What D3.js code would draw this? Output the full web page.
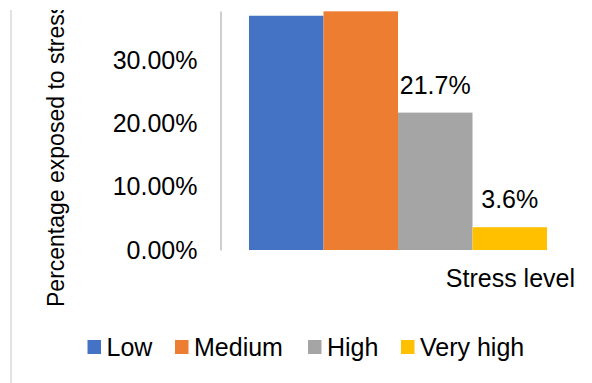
<!DOCTYPE html>
<html>
<head>
<meta charset="utf-8">
<script src="https://cdn.jsdelivr.net/npm/d3@7"></script>
<style>
  html, body { margin: 0; padding: 0; background: #fff; }
  svg { display: block; font-family: "Liberation Sans", Arial, sans-serif; }
</style>
</head>
<body>
<div id="chart"></div>
<script>
const categories = ["Low", "Medium", "High", "Very high"];
const values = [0.370, 0.377, 0.217, 0.036];
const labels = [null, null, "21.7%", "3.6%"];
const colors = ["#4472c4", "#ed7d31", "#a5a5a5", "#ffc000"];
const yTicks = [0, 0.1, 0.2, 0.3];

const width = 592, height = 383;
const plot = { left: 220.5, top: 11, bottom: 250, barLeft: 249, barRight: 547 };

const svg = d3.select("#chart").append("svg")
  .attr("width", width)
  .attr("height", height);

// the picture is cropped at the top, so the y title gets cut off
svg.append("clipPath")
  .attr("id", "crop")
  .append("rect")
  .attr("x", 0).attr("y", 10)
  .attr("width", width).attr("height", height - 10);

// frame line at the far left
svg.append("line")
  .attr("x1", 11).attr("x2", 11)
  .attr("y1", 10).attr("y2", height)
  .attr("stroke", "#d9d9d9")
  .attr("stroke-width", 1.5);

const x = d3.scaleBand()
  .domain(categories)
  .range([plot.barLeft, plot.barRight])
  .padding(0);

const y = d3.scaleLinear()
  .domain([0, 0.3775])
  .range([plot.bottom, plot.top]);

// bars
svg.append("g")
  .selectAll("rect")
  .data(categories)
  .join("rect")
  .attr("x", d => x(d))
  .attr("y", (d, i) => y(values[i]))
  .attr("width", x.bandwidth())
  .attr("height", (d, i) => y(0) - y(values[i]))
  .attr("fill", (d, i) => colors[i]);

// y axis
const yAxis = d3.axisLeft(y)
  .tickValues(yTicks)
  .tickFormat(d3.format(".2%"))
  .tickSize(0)
  .tickPadding(23);

const yAxisG = svg.append("g")
  .attr("transform", `translate(${plot.left},0)`)
  .call(yAxis);

yAxisG.select(".domain")
  .attr("stroke", "#bfbfbf")
  .attr("stroke-width", 1.5);

yAxisG.selectAll("text")
  .attr("font-family", "Liberation Sans, Arial, sans-serif")
  .attr("font-size", 25)
  .attr("fill", "#000");

// data labels
svg.append("g")
  .selectAll("text")
  .data(categories.filter((d, i) => labels[i]))
  .join("text")
  .attr("x", d => x(d) + x.bandwidth() / 2)
  .attr("y", d => y(values[categories.indexOf(d)]) - 19)
  .attr("text-anchor", "middle")
  .attr("font-size", 25)
  .attr("fill", "#000")
  .text(d => labels[categories.indexOf(d)]);

// axis titles
svg.append("text")
  .attr("x", 575)
  .attr("y", 287)
  .attr("text-anchor", "end")
  .attr("font-size", 25)
  .attr("fill", "#000")
  .text("Stress level");

svg.append("g")
  .attr("clip-path", "url(#crop)")
  .append("text")
  .attr("transform", "translate(64,307) rotate(-90)")
  .attr("font-size", 23)
  .attr("fill", "#000")
  .text("Percentage exposed to stress");

// legend
const legendX = [87.5, 175, 308, 401];
const legend = svg.append("g")
  .selectAll("g")
  .data(categories)
  .join("g")
  .attr("transform", (d, i) => `translate(${legendX[i]},340)`);

legend.append("rect")
  .attr("width", 13.5)
  .attr("height", 14)
  .attr("fill", (d, i) => colors[i]);

legend.append("text")
  .attr("x", 19)
  .attr("y", 15.5)
  .attr("font-size", 25)
  .attr("fill", "#000")
  .text(d => d);
</script>
</body>
</html>
